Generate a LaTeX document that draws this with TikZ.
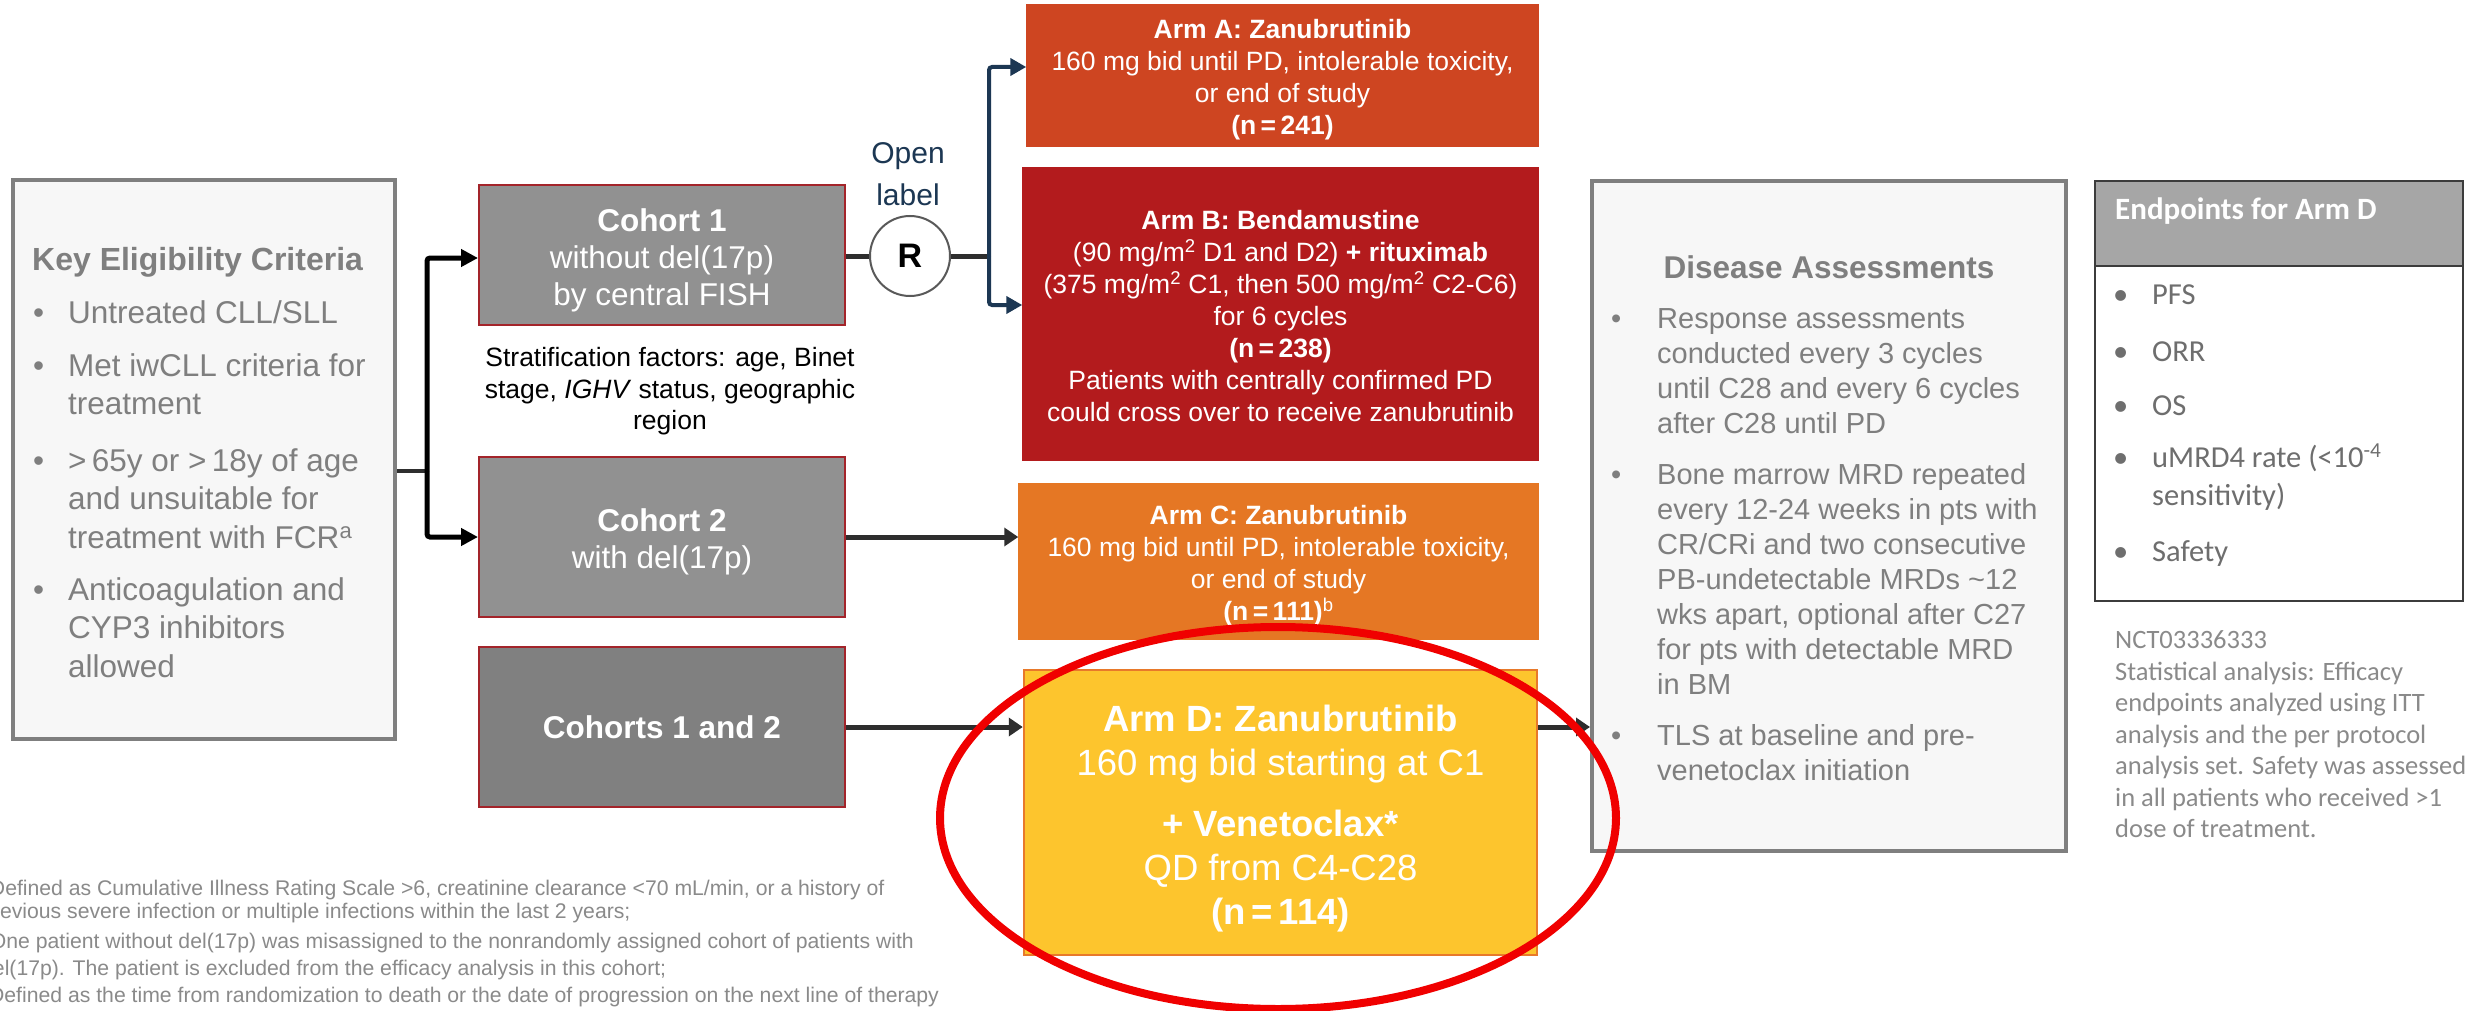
\documentclass[tikz,border=0pt]{standalone}
\usepackage{fontspec}
\setmainfont{Liberation Sans}
\newfontfamily\calibri{Carlito}
\usetikzlibrary{arrows.meta}

\definecolor{panelgray}{HTML}{F7F7F7}
\definecolor{panelline}{HTML}{7F7F7F}
\definecolor{paneltext}{HTML}{7F7F7F}
\definecolor{cohortfill}{HTML}{919191}
\definecolor{cohortdark}{HTML}{808080}
\definecolor{cohortline}{HTML}{A3242A}
\definecolor{armAcol}{HTML}{CE4521}
\definecolor{armBcol}{HTML}{B31B1D}
\definecolor{armCcol}{HTML}{E57724}
\definecolor{armDcol}{HTML}{FDC52D}
\definecolor{armDline}{HTML}{E8792A}
\definecolor{navy}{HTML}{1C3753}
\definecolor{connector}{HTML}{2E2E2E}
\definecolor{ringred}{HTML}{F00000}
\definecolor{headgray}{HTML}{A6A6A6}
\definecolor{endline}{HTML}{3C3C3C}
\definecolor{endtext}{HTML}{6E6E6E}
\definecolor{notetext}{HTML}{8A8A8A}

% multi-line text blocks whose baseline is the first line
\newcommand{\Cstack}[1]{\vtop{\halign{\hfil##\hfil\cr#1\crcr}}}
\newcommand{\Lstack}[1]{\vtop{\halign{##\hfil\cr#1\crcr}}}
\newcommand{\setfs}[2]{\fontsize{#1pt}{#2pt}\selectfont}
% bullet + text line(s): name, bullet x, text x, baseline y, lines
\newcommand{\bitem}[5]{%
  \node[txt] (#1-dot) at (#2,#4) {\textbullet};
  \node[txt] (#1) at (#3,#4) {\Lstack{#5}};}

\tikzset{
  panel/.style={draw=panelline, line width=4pt, fill=panelgray, inner sep=0pt},
  cohortbox/.style={draw=cohortline, line width=2pt, fill=cohortfill, inner sep=0pt,
    minimum width=366pt},
  armbox/.style={line width=1.5pt, inner sep=0pt},
  txt/.style={inner sep=0pt, anchor=base west},
  ctxt/.style={inner sep=0pt, anchor=base},
  armtext/.style={ctxt, text=white, font=\setfs{26.5}{32}},
  cohorttext/.style={ctxt, text=white, font=\setfs{31.5}{37}},
  split/.style={draw=black, line width=5pt, rounded corners=3pt,
    -{Triangle[length=17pt,width=17pt]}},
  navyline/.style={draw=navy, line width=4pt, rounded corners=3pt,
    -{Triangle[length=16pt,width=17pt]}},
  link/.style={draw=connector, line width=5pt, -{Triangle[length=14pt,width=18pt]}},
  plain/.style={draw=connector, line width=5pt},
}

\begin{document}
\begin{tikzpicture}[x=1pt,y=-1pt]
\useasboundingbox (0,0) rectangle (2476,1011);
\fill[white] (0,0) rectangle (2476,1011);
\clip (0,0) rectangle (2476,1011);

% ---------- eligibility panel ----------
\node[panel, minimum width=382pt, minimum height=559pt] (ke) at (204,459.5) {};
\node[txt, text=paneltext, font=\bfseries\setfs{32}{38}] (ke-title) at (32,270) {Key Eligibility Criteria};
\begin{scope}[every node/.append style={text=paneltext, font=\setfs{31.5}{38.5}}]
  \bitem{ke1}{33}{68}{323}{Untreated CLL/SLL}
  \bitem{ke2}{33}{68}{376}{Met iwCLL criteria for\cr treatment}
  \bitem{ke3}{33}{68}{471}{>\,65y or >\,18y of age\cr and unsuitable for\cr treatment with FCR\textsuperscript{a}}
  \bitem{ke4}{33}{68}{600}{Anticoagulation and\cr CYP3 inhibitors\cr allowed}
\end{scope}

% ---------- cohorts ----------
\node[cohortbox, minimum height=140pt] (c1) at (662,255) {};
\node[cohorttext] (c1-t) at (662,231.5) {\Cstack{\textbf{Cohort 1}\cr without del(17p)\cr by central FISH}};
\node[cohortbox, minimum height=160pt] (c2) at (662,537) {};
\node[cohorttext] (c2-t) at (662,531.5) {\Cstack{\textbf{Cohort 2}\cr with del(17p)}};
\node[cohortbox, fill=cohortdark, minimum height=160pt] (c12) at (662,727) {};
\node[cohorttext] (c12-t) at (662,738.5) {\textbf{Cohorts 1 and 2}};

\node[ctxt, text=black, font=\setfs{26.5}{31.5}] (strat) at (670,366.5)
  {\Cstack{Stratification factors: age, Binet\cr stage, \textit{IGHV} status, geographic\cr region}};

% ---------- randomisation ----------
\node[circle, draw=black!65, line width=2pt, fill=white, minimum size=80pt, inner sep=0pt,
  font=\bfseries\setfs{34}{34}] (rnd) at (910,256) {R};
\node[ctxt, text=navy, font=\setfs{30}{42}] (open) at (908,164) {\Cstack{Open\cr label}};

% ---------- treatment arms ----------
\node[armbox, fill=armAcol, draw=armAcol, minimum width=511pt, minimum height=141pt] (armA) at (1282.5,75.5) {};
\node[armtext] (armA-t) at (1282.5,38.5) {\Cstack{\textbf{Arm A: Zanubrutinib}\cr
  160 mg bid until PD, intolerable toxicity,\cr or end of study\cr \textbf{(n\,=\,241)}}};

\node[armbox, fill=armBcol, draw=armBcol, minimum width=515pt, minimum height=292pt] (armB) at (1280.5,314) {};
\node[armtext] (armB-t) at (1280.5,229.5) {\Cstack{\textbf{Arm B: Bendamustine}\cr
  (90 mg/m\textsuperscript{2} D1 and D2) \textbf{+ rituximab}\cr
  (375 mg/m\textsuperscript{2} C1, then 500 mg/m\textsuperscript{2} C2-C6)\cr
  for 6 cycles\cr \textbf{(n\,=\,238)}\cr
  Patients with centrally confirmed PD\cr could cross over to receive zanubrutinib}};

\node[armbox, fill=armCcol, draw=armCcol, minimum width=519pt, minimum height=155pt] (armC) at (1278.5,561.5) {};
\node[armtext] (armC-t) at (1278.5,524.5) {\Cstack{\textbf{Arm C: Zanubrutinib}\cr
  160 mg bid until PD, intolerable toxicity,\cr or end of study\cr \textbf{(n\,=\,111)}\textsuperscript{b}}};

\node[armbox, fill=armDcol, draw=armDline, line width=2.5pt, minimum width=513pt, minimum height=285pt] (armD) at (1280.5,812.5) {};
\node[ctxt, text=white, font=\setfs{36.5}{44}] (armD-t) at (1280.5,731) {\Cstack{\textbf{Arm D: Zanubrutinib}\cr
  160 mg bid starting at C1\cr\noalign{\vskip17pt}
  \textbf{+ Venetoclax*}\cr QD from C4-C28\cr \textbf{(n\,=\,114)}}};

% ---------- disease assessments ----------
\node[panel, minimum width=474pt, minimum height=670pt] (dis) at (1829,516) {};
\node[ctxt, text=paneltext, font=\bfseries\setfs{31.5}{38}] (dis-title) at (1829,278) {Disease Assessments};
\begin{scope}[every node/.append style={text=paneltext, font=\setfs{29}{35}}]
  \bitem{da1}{1611}{1657}{328.5}{Response assessments\cr conducted every 3 cycles\cr
    until C28 and every 6 cycles\cr after C28 until PD}
  \bitem{da2}{1611}{1657}{484.5}{Bone marrow MRD repeated\cr every 12-24 weeks in pts with\cr
    CR/CRi and two consecutive\cr PB-undetectable MRDs \textasciitilde12\cr
    wks apart, optional after C27\cr for pts with detectable MRD\cr in BM}
  \bitem{da3}{1611}{1657}{745.5}{TLS at baseline and pre-\cr venetoclax initiation}
\end{scope}

% ---------- endpoints ----------
\node[draw=endline, line width=2.5pt, fill=white, minimum width=368pt, minimum height=335pt, inner sep=0pt] (endp) at (2279,433.5) {};
\node[draw=endline, line width=2.5pt, fill=headgray, minimum width=368pt, minimum height=85pt, inner sep=0pt] (endh) at (2279,223.5) {};
\node[txt, text=white, font=\calibri\bfseries\setfs{31}{36}] (endh-t) at (2115,220) {Endpoints for Arm D};
\begin{scope}[every node/.append style={text=endtext, font=\calibri\setfs{30.5}{38}}]
  \bitem{ep1}{2113}{2152}{304}{PFS}
  \bitem{ep2}{2113}{2152}{361}{ORR}
  \bitem{ep3}{2113}{2152}{415}{OS}
  \bitem{ep4}{2113}{2152}{467}{uMRD4 rate (<10\textsuperscript{-4}\cr sensitivity)}
  \bitem{ep5}{2113}{2152}{561}{Safety}
\end{scope}
\node[txt, text=notetext, font=\calibri\setfs{26.5}{31.5}] (nct) at (2115,648.5) {\Lstack{NCT03336333\cr
  Statistical analysis: Efficacy\cr endpoints analyzed using ITT\cr analysis and the per protocol\cr
  analysis set. Safety was assessed\cr in all patients who received >1\cr dose of treatment.}};

% ---------- footnotes (running off the left and bottom edges) ----------
\begin{scope}[every node/.append style={txt, text=notetext, font=\setfs{21.2}{25}}]
  \node (fn1) at (-19,895) {\textsuperscript{a}Defined as Cumulative Illness Rating Scale >6, creatinine clearance <70 mL/min, or a history of};
  \node (fn2) at (-19,918) {previous severe infection or multiple infections within the last 2 years;};
  \node (fn3) at (-19,948) {\textsuperscript{b}One patient without del(17p) was misassigned to the nonrandomly assigned cohort of patients with};
  \node (fn4) at (-19,975) {del(17p). The patient is excluded from the efficacy analysis in this cohort;};
  \node (fn5) at (-19,1002) {\textsuperscript{c}Defined as the time from randomization to death or the date of progression on the next line of therapy};
\end{scope}

% ---------- connectors ----------
\coordinate (branch) at (427,471);
\draw[plain, line width=4.5pt] (ke.east |- branch) -- (branch);
\draw[split] (branch) |- ([yshift=-3pt]c1.west);
\draw[split] (branch) |- (c2.west);

\coordinate (fork) at (989,256);
\draw[plain] (c1.east |- rnd) -- (rnd.west);
\draw[plain] (rnd.east) -- (fork);
\draw[navyline] (fork) |- ([yshift=8.5pt]armA.west);
\draw[navyline] (fork) |- ([yshift=9pt]armB.west);

\draw[link] (c2.east) -- (c2.east -| armC.west);
\draw[link] (c12.east) -- (c12.east -| armD.west);
\draw[link] (armD.east |- c12.east) -- (dis.west |- c12.east);

% ---------- highlight ring ----------
\draw[draw=ringred, line width=8pt] (1278,818) ellipse [x radius=338pt, y radius=191pt];
\end{tikzpicture}
\end{document}
